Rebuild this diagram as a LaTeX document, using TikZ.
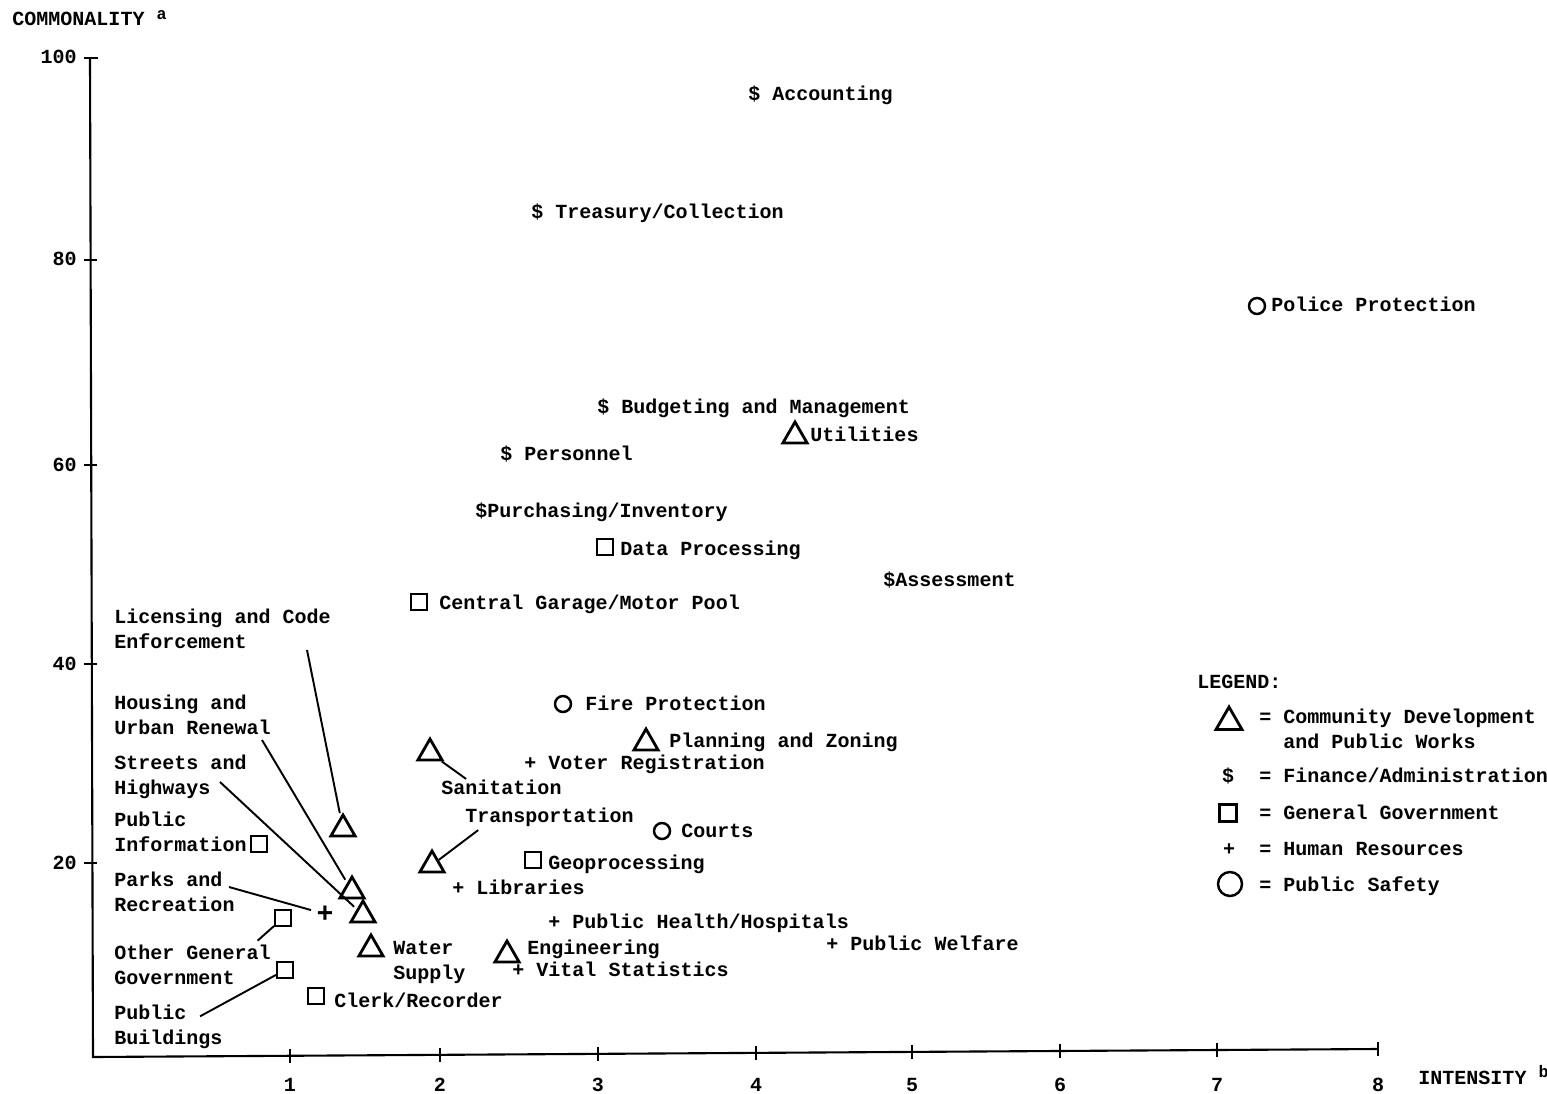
\documentclass[tikz,border=0pt]{standalone}
\usepackage{fontspec}
\setmainfont{Liberation Mono}
\usepackage{tikz}
\usetikzlibrary{shapes,calc,positioning}

\begin{document}
\begin{tikzpicture}[x=0.02cm,y=-0.02cm,font=\fontsize{11.4}{14.2}\selectfont\bfseries]

   \tikzstyle{tri}=[draw,regular polygon,regular polygon sides=3,minimum size=0.56cm,inner sep=0pt,line width=1.6pt]
   \tikzstyle{sq}=[draw,rectangle,minimum size=0.31cm,inner sep=0pt,line width=1.4pt]
   \tikzstyle{ring}=[draw,circle,minimum size=0.32cm,inner sep=0pt,line width=1.4pt]
   \tikzstyle{lbl}=[anchor=base west,inner sep=0pt,align=left]
   \tikzstyle{lead}=[line width=1.1pt,shorten >=2pt]
   \tikzstyle{axis}=[line width=1.2pt]

   \useasboundingbox (0,0) rectangle (1547,1094);

   % axes
   \coordinate (ytop) at (90,58);
   \coordinate (origin) at (93,1057);
   \coordinate (xend) at (1378,1049);
   \draw[axis] (ytop) -- (origin) -- (xend);
   \draw[axis] (84,58) -- (98,58);
   \node[anchor=base east,inner sep=0pt] (y100) at (77,64) {100};
   \foreach \y/\v in {260/80,465/60,664/40,863/20}
   {
     \draw[axis] (84,\y) -- (97,\y);
     \node[anchor=base east,inner sep=0pt] (y\v) at (77,\y+6) {\v};
   }
   \foreach \x/\v in {290/1,440/2,598/3,756/4,912/5,1060/6,1217/7,1378/8}
   {
     \draw[axis] (\x,{1057-8*(\x-93)/1285-7}) -- (\x,{1057-8*(\x-93)/1285+7});
     \node[anchor=base,inner sep=0pt] (x\v) at (\x,1091) {\v};
   }
   \node[lbl] (ytitle) at (12,26) {COMMONALITY \raisebox{0.6ex}{\fontsize{9.5}{9.5}\selectfont a}};
   \node[lbl] (xtitle) at (1418,1084) {INTENSITY \raisebox{0.6ex}{\fontsize{9.5}{9.5}\selectfont b}};

   % finance / administration
   \node[lbl] (acc) at (748,101) {\$ Accounting};
   \node[lbl] (treas) at (531,219) {\$ Treasury/Collection};
   \node[lbl] (budg) at (597,414) {\$ Budgeting and Management};
   \node[lbl] (pers) at (500,460) {\$ Personnel};
   \node[lbl] (purch) at (475,517) {\$Purchasing/Inventory};
   \node[lbl] (assess) at (883,586) {\$Assessment};

   % public safety
   \node[ring] (police) at (1257,306) {};
   \node[lbl] (policeL) at (1271,312) {Police Protection};
   \node[ring] (fire) at (563,704) {};
   \node[lbl] (fireL) at (585,710) {Fire Protection};
   \node[ring] (courts) at (662,831) {};
   \node[lbl] (courtsL) at (681,837) {Courts};

   % general government
   \node[sq] (data) at (605,547) {};
   \node[lbl] (dataL) at (620,555) {Data Processing};
   \node[sq] (garage) at (419,602) {};
   \node[lbl] (garageL) at (439,609) {Central Garage/Motor Pool};
   \node[sq] (geo) at (533,860) {};
   \node[lbl] (geoL) at (548,869) {Geoprocessing};
   \node[sq] (pubinfo) at (259,844) {};
   \node[lbl] (pubinfoL) at (114,851) {Public\\Information};
   \node[sq] (other) at (283,918) {};
   \node[lbl] (otherL) at (114,984) {Other General\\Government};
   \node[sq] (build) at (285,970) {};
   \node[lbl] (buildL) at (114,1044) {Public\\Buildings};
   \node[sq] (clerk) at (316,996) {};
   \node[lbl] (clerkL) at (334,1007) {Clerk/Recorder};

   % community development and public works
   \node[tri] (util) at (795,436) {};
   \node[lbl] (utilL) at (810,441) {Utilities};
   \node[tri] (lic) at (343,829) {};
   \node[lbl] (licL) at (114,648) {Licensing and Code\\Enforcement};
   \node[tri] (hous) at (352,891) {};
   \node[lbl] (housL) at (114,734) {Housing and\\Urban Renewal};
   \node[tri] (street) at (363,915) {};
   \node[lbl] (streetL) at (114,794) {Streets and\\Highways};
   \node[tri] (water) at (371,949) {};
   \node[lbl] (waterL) at (393,979) {Water\\Supply};
   \node[tri] (sanit) at (430,753) {};
   \node[lbl] (sanitL) at (441,794) {Sanitation};
   \node[tri] (trans) at (432,865) {};
   \node[lbl] (transL) at (465,822) {Transportation};
   \node[tri] (plan) at (646,743) {};
   \node[lbl] (planL) at (669,747) {Planning and Zoning};
   \node[tri] (eng) at (507,955) {};
   \node[lbl] (engL) at (527,954) {Engineering};

   % human resources
   \node[inner sep=1pt,font=\fontsize{16}{16}\selectfont\bfseries] (parks) at (325,914) {+};
   \node[lbl] (parksL) at (114,911) {Parks and\\Recreation};
   \node[lbl] (voter) at (524,769) {+ Voter Registration};
   \node[lbl] (libr) at (452,894) {+ Libraries};
   \node[lbl] (health) at (548,928) {+ Public Health/Hospitals};
   \node[lbl] (welf) at (826,950) {+ Public Welfare};
   \node[lbl] (vital) at (512,976) {+ Vital Statistics};

   % leader lines
   \coordinate (licA) at (307,650);
   \coordinate (housA) at (262,740);
   \coordinate (streetA) at (220,782);
   \coordinate (parksA) at (229,887);
   \coordinate (otherA) at (255,943);
   \coordinate (buildA) at (197,1018);
   \coordinate (sanitA) at (469,781);
   \coordinate (transA) at (481,828);
   \draw[lead] (licA) -- (lic);
   \draw[lead] (housA) -- (hous);
   \draw[lead] (streetA) -- (street);
   \draw[lead] (parksA) -- (parks);
   \draw[lead] (other) -- (otherA);
   \draw[lead] (build) -- (buildA);
   \draw[lead] (sanit) -- (sanitA);
   \draw[lead] (trans) -- (transA);

   % legend
   \node[lbl] (legend) at (1197,688) {LEGEND:};
   \node[tri,minimum size=0.6cm] (legTri) at (1229,722) {};
   \node[lbl] (legTriL) at (1259,748) {= Community Development\\\phantom{= }and Public Works};
   \node[anchor=base,inner sep=0pt] (legDol) at (1228,782) {\$};
   \node[lbl] (legDolL) at (1259,782) {= Finance/Administration};
   \node[sq,minimum size=0.34cm] (legSq) at (1228,813) {};
   \node[lbl] (legSqL) at (1259,819) {= General Government};
   \node[anchor=base,inner sep=0pt] (legPlus) at (1229,855) {+};
   \node[lbl] (legPlusL) at (1259,855) {= Human Resources};
   \node[ring,minimum size=0.48cm] (legRing) at (1230,884) {};
   \node[lbl] (legRingL) at (1259,891) {= Public Safety};

\end{tikzpicture}
\end{document}
